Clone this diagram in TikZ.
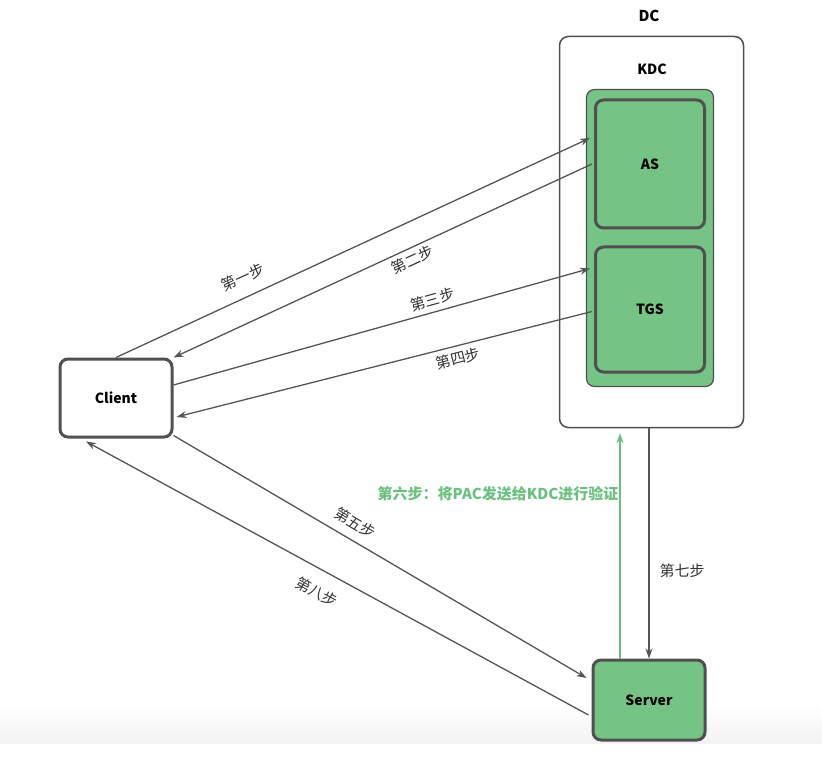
\documentclass[tikz,border=0pt]{standalone}
\usepackage{fontspec}
\setmainfont{Noto Sans CJK SC}
\usetikzlibrary{arrows.meta}
\usetikzlibrary{calc,positioning}
\definecolor{kgreen}{HTML}{76C485}
\definecolor{kgray}{HTML}{505050}
\definecolor{kline}{HTML}{555555}
\definecolor{ktext}{HTML}{6CC07F}

\begin{document}
\begin{tikzpicture}[>={Stealth[length=10pt,width=7pt]}, x=1pt, y=-1pt,
    box/.style={draw=kgray, line width=3pt, rounded corners=8pt, font=\fontsize{14}{16}\selectfont\bfseries},
    flow/.style={->, draw=kline, line width=1.3pt},
    steplabel/.style={font=\fontsize{15}{17}\selectfont, text=black!80, inner sep=2pt}]

    \useasboundingbox (0,0) rectangle (822,759);
    \shade[top color=white, bottom color=black!5] (0,705) rectangle (822,743);

    \node[draw=kgray, line width=1.5pt, rounded corners=9pt, minimum width=184pt, minimum height=391pt] (dc) at (651.5,232) {};
    \node[font=\fontsize{15}{17}\selectfont\bfseries] (dclabel) at (649,16) {DC};
    \node[font=\fontsize{14}{16}\selectfont\bfseries] (kdclabel) at (652,69) {KDC};

    \node[draw=kgray, line width=1.2pt, fill=kgreen, rounded corners=8pt, minimum width=127pt, minimum height=297pt] (kdc) at (650,238) {};
    \node[box, fill=kgreen, minimum width=109pt, minimum height=128pt] (as) at (650,164) {AS};
    \node[box, fill=kgreen, minimum width=109pt, minimum height=125pt] (tgs) at (650,309.5) {TGS};

    \node[box, fill=white, minimum width=112pt, minimum height=78pt] (client) at (116,398) {Client};
    \node[box, fill=kgreen, minimum width=112pt, minimum height=80pt] (server) at (649,700) {Server};

    \draw[flow] (client.north) -- node[steplabel, sloped, above=10pt, pos=0.285] (s1) {第一步} ($(as.west)+(-4,-26)$);
    \draw[flow] ($(as.west)+(-2,0)$) -- node[steplabel, sloped, below=2pt, pos=0.44] (s2) {第二步} (client.north east);
    \draw[flow] ($(client.east)+(0,-13)$) -- node[steplabel, sloped, above=3pt, pos=0.63] (s3) {第三步} ($(tgs.west)+(-4,-41)$);
    \draw[flow] ($(tgs.west)+(-2,2)$) -- node[steplabel, sloped, below=3pt, pos=0.33] (s4) {第四步} ($(client.east)+(3,19)$);
    \draw[flow] ($(client.south east)+(0,-3)$) -- node[steplabel, sloped, above=7pt, pos=0.42] (s5) {第五步} ($(server.west)+(-5,-22)$);

    \draw[flow, draw=ktext] ($(server.north)+(-29,0)$) -- node[pos=0.73, left, inner sep=1pt, text=ktext, font=\fontsize{15}{17}\selectfont\bfseries] (s6) {第六步：将PAC发送给KDC进行验证} ($(server.north |- dc.south)+(-29,5)$);
    \draw[flow] (server.north |- dc.south) -- node[steplabel, right=8pt, pos=0.62] (s7) {第七步} (server.north);

    \draw[flow] ($(server.west)+(-3,15)$) -- node[steplabel, sloped, below=12pt, pos=0.52] (s8) {第八步} ($(client.south)+(-30,3)$);

\end{tikzpicture}
\end{document}
